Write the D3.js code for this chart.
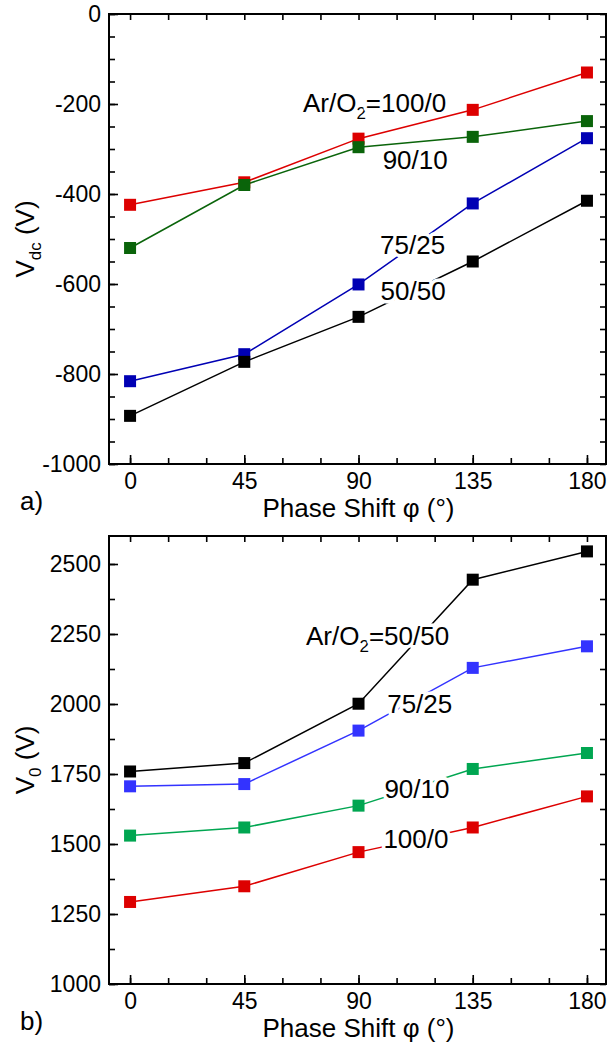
<!DOCTYPE html>
<html>
<head>
<meta charset="utf-8">
<script src="https://cdn.jsdelivr.net/npm/d3@7"></script>
<style>
  body { margin: 0; background: #fff; }
  svg text { font-family: "Liberation Sans", Arial, sans-serif; fill: #000; }
</style>
</head>
<body>
<svg id="chart" width="610" height="1046"></svg>
<script>
// phase shift values (x)
const phases = [0, 45, 90, 135, 180];

// panel a) Vdc (V)
const vdc100_0 = [-424, -374, -277, -213, -130];
const vdc90_10 = [-520, -380, -296, -273, -238];
const vdc75_25 = [-816, -756, -601, -421, -276];
const vdc50_50 = [-893, -773, -673, -550, -415];

// panel b) V0 (V)
const v0_50_50 = [1759, 1789, 2001, 2444, 2545];
const v0_75_25 = [1706, 1714, 1905, 2129, 2206];
const v0_90_10 = [1530, 1559, 1637, 1768, 1825];
const v0_100_0 = [1293, 1349, 1471, 1559, 1670];

const xTicks = [0, 45, 90, 135, 180];
const yTicksA = [-1000, -800, -600, -400, -200, 0];
const yTicksB = [1000, 1250, 1500, 1750, 2000, 2250, 2500];

const svg = d3.select("#chart");
const left = 109, right = 606;

const x = d3.scaleLinear().domain([-8.3, 187.5]).range([left, right]);
const plain = d => String(d);

function panel(opts) {
  const { top, bottom, yDomain, yMajor, yMinorStep, series, labels, ySub, letter } = opts;
  const y = d3.scaleLinear().domain(yDomain).range([bottom, top]);
  const g = svg.append("g");

  const xMinor = d3.range(0, 181, 15);
  const yMinor = d3.range(yDomain[0], yDomain[1] + 1, yMinorStep);

  // minor ticks on all four sides, inward
  g.append("g").attr("transform", `translate(0,${bottom})`)
    .call(d3.axisBottom(x).tickValues(xMinor).tickSize(-6).tickFormat(""));
  g.append("g").attr("transform", `translate(0,${top})`)
    .call(d3.axisTop(x).tickValues(xMinor).tickSize(-6).tickFormat(""));
  g.append("g").attr("transform", `translate(${left},0)`)
    .call(d3.axisLeft(y).tickValues(yMinor).tickSize(-6).tickFormat(""));
  g.append("g").attr("transform", `translate(${right},0)`)
    .call(d3.axisRight(y).tickValues(yMinor).tickSize(-6).tickFormat(""));

  // major ticks with labels
  g.append("g").attr("class", "lab").attr("transform", `translate(0,${bottom})`)
    .call(d3.axisBottom(x).tickValues(xTicks).tickSize(-9).tickPadding(9).tickFormat(plain));
  g.append("g").attr("class", "lab").attr("transform", `translate(${left},0)`)
    .call(d3.axisLeft(y).tickValues(yMajor).tickSize(-9).tickPadding(8).tickFormat(plain));

  g.selectAll(".domain").remove();
  g.selectAll(".tick line").attr("stroke", "#000").attr("stroke-width", 1.6);
  g.selectAll(".lab text").attr("font-size", 23).attr("font-family", "Liberation Sans, Arial, sans-serif");

  // frame
  g.append("rect")
    .attr("x", left).attr("y", top)
    .attr("width", right - left).attr("height", bottom - top)
    .attr("fill", "none").attr("stroke", "#000").attr("stroke-width", 2);

  const line = d3.line().x((d, i) => x(phases[i])).y(d => y(d));

  series.forEach(s => {
    g.append("path")
      .datum(s.values)
      .attr("fill", "none")
      .attr("stroke", s.color)
      .attr("stroke-width", 1.5)
      .attr("d", line);
  });

  // curve labels with white halo so lines break around them
  labels.forEach(l => {
    const t = g.append("text")
      .attr("x", x(l.x)).attr("y", y(l.y))
      .attr("font-size", 26)
      .attr("stroke", "#fff").attr("stroke-width", 7)
      .attr("stroke-linejoin", "round")
      .attr("paint-order", "stroke");
    if (l.prefix) {
      t.append("tspan").text("Ar/O");
      t.append("tspan").attr("font-size", 17).attr("dy", 7).text("2");
      t.append("tspan").attr("dy", -7).text("=" + l.text);
    } else {
      t.text(l.text);
    }
  });

  series.forEach(s => {
    g.append("g").selectAll("rect")
      .data(s.values)
      .join("rect")
      .attr("x", (d, i) => x(phases[i]) - 6)
      .attr("y", d => y(d) - 6)
      .attr("width", 12).attr("height", 12)
      .attr("fill", s.color);
  });

  // axis titles
  g.append("text")
    .attr("x", x(90)).attr("y", bottom + 53)
    .attr("text-anchor", "middle").attr("font-size", 26)
    .text("Phase Shift φ (°)");

  const yt = g.append("text")
    .attr("transform", `translate(34,${(top + bottom) / 2}) rotate(-90)`)
    .attr("text-anchor", "middle").attr("font-size", 26);
  yt.append("tspan").text("V");
  yt.append("tspan").attr("font-size", 17).attr("dy", 7).text(ySub);
  yt.append("tspan").attr("dy", -7).text(" (V)");

  g.append("text")
    .attr("x", 20).attr("y", bottom + 46)
    .attr("font-size", 26)
    .text(letter);
}

panel({
  top: 14, bottom: 464,
  yDomain: [-1000, 0], yMajor: yTicksA, yMinorStep: 50,
  series: [
    { values: vdc100_0, color: "#dd0000" },
    { values: vdc90_10, color: "#0a640a" },
    { values: vdc75_25, color: "#0000b4" },
    { values: vdc50_50, color: "#000000" }
  ],
  labels: [
    { x: 68.1, y: -218, text: "100/0", prefix: true },
    { x: 99.5, y: -345, text: "90/10" },
    { x: 98.5, y: -533, text: "75/25" },
    { x: 98.7, y: -636, text: "50/50" }
  ],
  ySub: "dc", letter: "a)"
});

panel({
  top: 536, bottom: 984,
  yDomain: [1000, 2600], yMajor: yTicksB, yMinorStep: 125,
  series: [
    { values: v0_100_0, color: "#dd0000" },
    { values: v0_90_10, color: "#00a651" },
    { values: v0_75_25, color: "#3333ff" },
    { values: v0_50_50, color: "#000000" }
  ],
  labels: [
    { x: 69.3, y: 2209, text: "50/50", prefix: true },
    { x: 101.3, y: 1968, text: "75/25" },
    { x: 100.2, y: 1664, text: "90/10" },
    { x: 99.8, y: 1486, text: "100/0" }
  ],
  ySub: "0", letter: "b)"
});
</script>
</body>
</html>
